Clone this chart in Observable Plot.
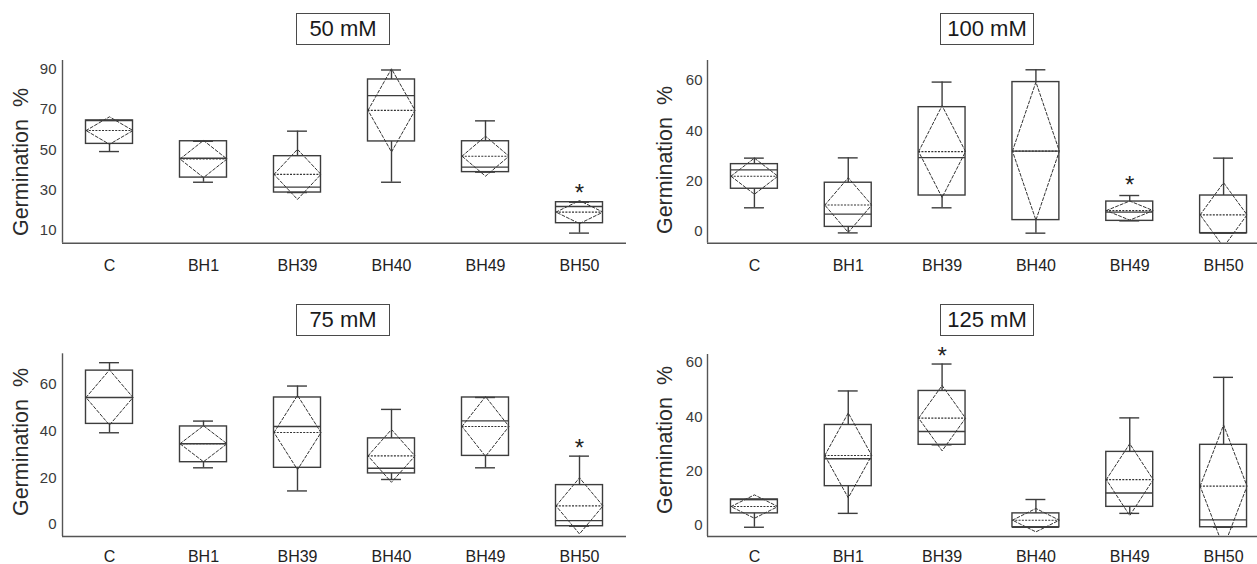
<!DOCTYPE html>
<html><head><meta charset="utf-8">
<script src="https://cdn.jsdelivr.net/npm/d3@7"></script>
<script src="https://cdn.jsdelivr.net/npm/@observablehq/plot@0.6"></script>
<style>
body{margin:0;background:#fff;}
#root{position:relative;width:1257px;height:564px;overflow:hidden;background:#fff;font-family:"Liberation Sans",Arial,sans-serif;}
.panel{position:absolute;}
.title{position:absolute;border:1.8px solid #4a4a4a;box-sizing:border-box;width:94px;height:32px;display:flex;align-items:center;justify-content:center;font-size:22px;color:#1a1a1a;}
.ylab{position:absolute;transform:translate(-50%,-50%) rotate(-90deg);white-space:pre;font-size:21.5px;color:#2a2a2a;}
</style></head>
<body><div id="root"></div>
<script>
// ---- data ----
const categories = ["C", "BH1", "BH39", "BH40", "BH49", "BH50"];
const panelTitles = ["50 mM", "100 mM", "75 mM", "125 mM"];
const yLabel = "Germination  %";

// 50 mM
const min50  = [49.1, 33.9, 28.8, 33.9, 38.9, 8.7];
const q1_50  = [52.9, 36.2, 28.8, 54.1, 38.9, 13.6];
const med50  = [64.5, 45.8, 31.5, 76.8, 41.4, 21.9];
const q3_50  = [64.5, 54.2, 46.8, 84.8, 54.2, 24.0];
const max50  = [64.5, 54.2, 59.2, 89.5, 64.3, 24.0];
const mean50 = [59.5, 45.4, 37.8, 69.5, 46.8, 19.1];
const dev50  = [6.8, 9.2, 12.4, 20.6, 9.9, 5.7];
const star50 = {cat: ["BH50"], y: [31.1]};
const yTicks50 = [10, 30, 50, 70, 90];

// 100 mM
const min100  = [9.3, -0.7, 9.3, -0.8, 4.1, -0.8];
const q1_100  = [16.9, 1.7, 14.2, 4.4, 4.1, -0.8];
const med100  = [24.4, 6.8, 29.3, 31.9, 7.6, -0.8];
const q3_100  = [26.7, 19.3, 49.4, 59.4, 11.8, 14.2];
const max100  = [29.1, 29.2, 59.4, 64.3, 14.2, 29.1];
const mean100 = [21.9, 10.4, 31.7, 31.9, 8.2, 6.5];
const dev100  = [7.2, 10.9, 18.3, 27.5, 3.8, 12.8];
const star100 = {cat: ["BH49"], y: [20.2]};
const yTicks100 = [0, 20, 40, 60];

// 75 mM
const min75  = [39.3, 24.3, 14.4, 19.3, 24.3, -0.7];
const q1_75  = [43.1, 26.7, 24.3, 21.9, 29.4, -0.7];
const med75  = [54.4, 34.6, 42.0, 24.1, 44.4, 1.7];
const q3_75  = [65.9, 42.0, 54.4, 36.9, 54.4, 16.9];
const max75  = [69.3, 44.3, 59.3, 49.3, 54.4, 29.3];
const mean75 = [54.4, 34.6, 39.4, 29.4, 42.0, 8.0];
const dev75  = [11.8, 7.7, 15.9, 11.3, 12.8, 12.0];
const star75 = {cat: ["BH50"], y: [34.6]};
const yTicks75 = [0, 20, 40, 60];

// 125 mM
const min125  = [-0.6, 4.5, 29.7, -0.6, 4.5, -0.6];
const q1_125  = [4.5, 14.5, 29.7, -0.6, 6.9, -0.6];
const med125  = [9.6, 24.6, 34.6, -0.6, 12.0, 2.1];
const q3_125  = [9.6, 37.0, 49.5, 4.5, 27.1, 29.7];
const max125  = [9.6, 49.5, 59.4, 9.6, 39.6, 54.5];
const mean125 = [7.0, 25.8, 39.5, 2.0, 16.9, 14.5];
const dev125  = [4.3, 15.6, 12.0, 4.3, 13.2, 22.5];
const star125 = {cat: ["BH39"], y: [64.1]};
const yTicks125 = [0, 20, 40, 60];

// ---- layout ----
const layouts = [
  {left: 0,   top: 0,   w: 628, h: 290, mt: 60,   mb: 47.3, ml: 62, mr: 2, xr: [62, 626], yd: [3.7, 94.2], pad: 6, xpad: 16, title: [296, 13],  ylab: [21, 162]},
  {left: 628, top: 0,   w: 629, h: 290, mt: 60,   mb: 47.3, ml: 79, mr: 0, xr: [79, 642], yd: [-4.8, 68],  pad: 5, xpad: 16, title: [940, 13],  ylab: [665, 160]},
  {left: 0,   top: 280, w: 628, h: 284, mt: 73.3, mb: 28,   ml: 62, mr: 2, xr: [62, 626], yd: [-5.1, 73.1], pad: 6, xpad: 14, title: [296, 304], ylab: [21, 442]},
  {left: 628, top: 280, w: 629, h: 284, mt: 74,   mb: 28,   ml: 79, mr: 0, xr: [79, 642], yd: [-4.0, 62.9], pad: 5, xpad: 14, title: [940, 304], ylab: [665, 440]}
];
const series = [
  [min50, q1_50, med50, q3_50, max50, mean50, dev50, star50, yTicks50],
  [min100, q1_100, med100, q3_100, max100, mean100, dev100, star100, yTicks100],
  [min75, q1_75, med75, q3_75, max75, mean75, dev75, star75, yTicks75],
  [min125, q1_125, med125, q3_125, max125, mean125, dev125, star125, yTicks125]
];

const root = document.getElementById("root");
const ink = "#3d3d3d";
const HB = 0.25, CAP = 0.106;

layouts.forEach((L, p) => {
  const [mins, q1s, meds, q3s, maxs, means, devs, stars, yTicks] = series[p];
  const rows = categories.map((c, i) => ({i, c, min: mins[i], q1: q1s[i], med: meds[i], q3: q3s[i], max: maxs[i], mean: means[i], dev: devs[i]}));
  const diamond = rows.flatMap(r => [
    {i: r.i, x: r.i - HB, y: r.mean},
    {i: r.i, x: r.i, y: r.mean + r.dev},
    {i: r.i, x: r.i + HB, y: r.mean},
    {i: r.i, x: r.i, y: r.mean - r.dev},
    {i: r.i, x: r.i - HB, y: r.mean}
  ]);
  const starRows = stars.cat.map((c, k) => ({i: categories.indexOf(c), y: stars.y[k]}));

  const chart = Plot.plot({
    width: L.w, height: L.h,
    marginTop: L.mt, marginBottom: L.mb, marginLeft: L.ml, marginRight: L.mr,
    style: {fontFamily: '"Liberation Sans", Arial, sans-serif', background: "transparent", color: "#333", overflow: "visible"},
    x: {type: "linear", domain: [-0.5, 5.5], range: L.xr},
    y: {domain: L.yd},
    marks: [
      Plot.line(diamond, {x: "x", y: "y", z: "i", stroke: "#333", strokeWidth: 1, strokeDasharray: "3,2", clip: true}),
      Plot.ruleY(rows, {y: "mean", x1: d => d.i - HB, x2: d => d.i + HB, stroke: "#333", strokeWidth: 1.1, strokeDasharray: "2,1.3"}),
      Plot.ruleX(rows, {x: "i", y1: "q3", y2: "max", stroke: ink, strokeWidth: 1.4}),
      Plot.ruleX(rows, {x: "i", y1: "min", y2: "q1", stroke: ink, strokeWidth: 1.4}),
      Plot.ruleY(rows, {y: "max", x1: d => d.i - CAP, x2: d => d.i + CAP, stroke: ink, strokeWidth: 1.4}),
      Plot.ruleY(rows, {y: "min", x1: d => d.i - CAP, x2: d => d.i + CAP, stroke: ink, strokeWidth: 1.4}),
      Plot.rect(rows, {x1: d => d.i - HB, x2: d => d.i + HB, y1: "q1", y2: "q3", fill: "none", stroke: ink, strokeWidth: 1.4}),
      Plot.ruleY(rows, {y: "med", x1: d => d.i - HB, x2: d => d.i + HB, stroke: ink, strokeWidth: 1.4}),
      Plot.text(starRows, {x: "i", y: "y", text: () => "*", fontSize: 24, dy: 5, fill: "#222"}),
      Plot.ruleX([-0.5], {stroke: "#555", strokeWidth: 1.4}),
      Plot.ruleY([L.yd[0]], {stroke: "#555", strokeWidth: 1.4}),
      Plot.axisY({ticks: yTicks, tickSize: 0, tickPadding: L.pad, fontSize: 15, label: null, fill: "#3a3a3a"}),
      Plot.axisX({ticks: categories.map((c, i) => i), tickFormat: i => categories[i], tickSize: 0, tickPadding: L.xpad, fontSize: 16, label: null, fill: "#222"})
    ]
  });
  const wrap = document.createElement("div");
  wrap.className = "panel";
  wrap.style.left = L.left + "px";
  wrap.style.top = L.top + "px";
  wrap.appendChild(chart);
  root.appendChild(wrap);

  const t = document.createElement("div");
  t.className = "title";
  t.style.left = L.title[0] + "px";
  t.style.top = L.title[1] + "px";
  t.textContent = panelTitles[p];
  root.appendChild(t);

  const yl = document.createElement("div");
  yl.className = "ylab";
  yl.style.left = L.ylab[0] + "px";
  yl.style.top = L.ylab[1] + "px";
  yl.textContent = yLabel;
  root.appendChild(yl);
});
</script>
</body></html>
